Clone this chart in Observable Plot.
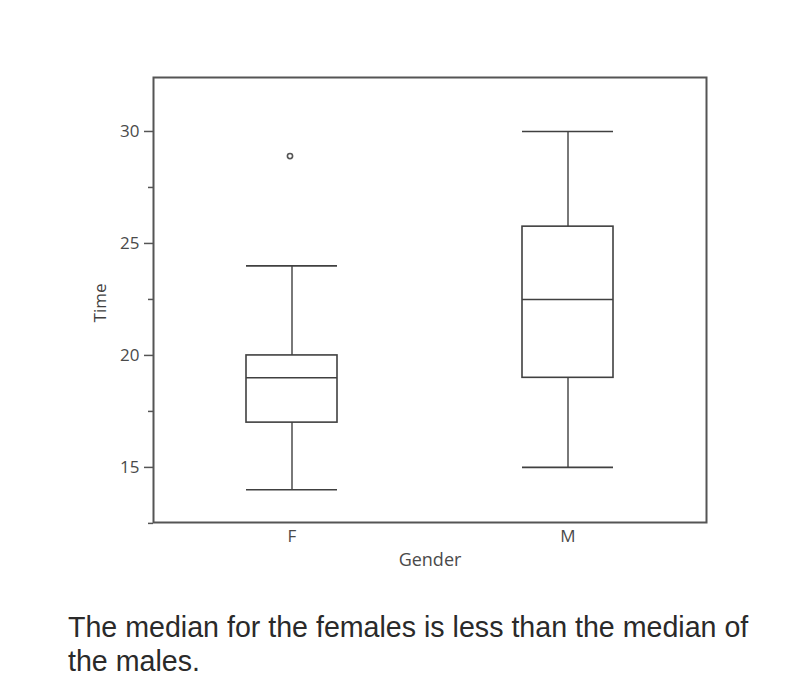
<!DOCTYPE html>
<html>
<head>
<meta charset="utf-8">
<script src="https://cdn.jsdelivr.net/npm/d3@7"></script>
<script src="https://cdn.jsdelivr.net/npm/@observablehq/plot@0.6"></script>
<style>
  body { margin: 0; background: #fff; }
  #chart svg { display: block; }
  .caption { font-family: "Liberation Sans", Arial, sans-serif; font-size: 28.6px; color: #2a2a2a; margin: 20px 0 0 68px; line-height: 34px; width: 720px; }
</style>
</head>
<body>
<div id="chart"></div>
<div class="caption">The median for the females is less than the median of the males.</div>
<script>
const genders = ["F", "M"];
const whiskerLow = [14, 15];
const q1 = [17, 19];
const median = [19, 22.5];
const q3 = [20, 25.75];
const whiskerHigh = [24, 30];
const outlierGender = ["F"];
const outlierTime = [28.9];
const majorTicks = [15, 20, 25, 30];
const minorTicks = [12.5, 17.5, 22.5, 27.5];

const boxes = genders.map((g, i) => ({g, lo: whiskerLow[i], q1: q1[i], med: median[i], q3: q3[i], hi: whiskerHigh[i]}));
const outliers = outlierGender.map((g, i) => ({g, t: outlierTime[i]}));

const stroke = "#404040";
const labelColor = "#4a4a4a";
const chart = Plot.plot({
  width: 800,
  height: 590,
  marginLeft: 153,
  marginRight: 94,
  marginTop: 77,
  marginBottom: 68,
  style: {fontFamily: "'Open Sans', 'DejaVu Sans', sans-serif", fontSize: "17px", color: labelColor},
  x: {type: "band", domain: genders, paddingInner: 0.67, paddingOuter: 0.335, axis: null},
  y: {domain: [12.54, 32.41], axis: null},
  marks: [
    Plot.ruleX(boxes, {x: "g", y1: "lo", y2: "q1", stroke, strokeWidth: 1.4}),
    Plot.ruleX(boxes, {x: "g", y1: "q3", y2: "hi", stroke, strokeWidth: 1.4}),
    Plot.barY(boxes, {x: "g", y1: "q1", y2: "q3", fill: "none", stroke, strokeWidth: 1.6}),
    Plot.tickY(boxes, {x: "g", y: "med", stroke, strokeWidth: 1.6}),
    Plot.tickY(boxes, {x: "g", y: "lo", stroke, strokeWidth: 1.6}),
    Plot.tickY(boxes, {x: "g", y: "hi", stroke, strokeWidth: 1.6}),
    Plot.dot(outliers, {x: "g", y: "t", r: 2.6, stroke: "#555", strokeWidth: 1.6, fill: "none", dx: -2}),
    Plot.axisY({ticks: majorTicks, tickSize: 9, tickPadding: 5, stroke: "#555", strokeWidth: 1.5, fill: labelColor, label: null, fontSize: 17}),
    Plot.axisY({ticks: minorTicks, tickSize: 5, tickFormat: () => "", stroke: "#555", strokeWidth: 1.5, label: null}),
    Plot.axisX({tickSize: 0, tickPadding: 7, fill: labelColor, label: null, fontSize: 17}),
    Plot.frame({stroke: "#555", strokeWidth: 2}),
    Plot.text(["Gender"], {frameAnchor: "bottom", dy: 43, fill: labelColor, fontSize: 18}),
    Plot.text(["Time"], {frameAnchor: "left", textAnchor: "middle", dx: -53, dy: 3, rotate: -90, fill: "#404040", fontSize: 17})
  ]
});
document.getElementById("chart").append(chart);
</script>
</body>
</html>
